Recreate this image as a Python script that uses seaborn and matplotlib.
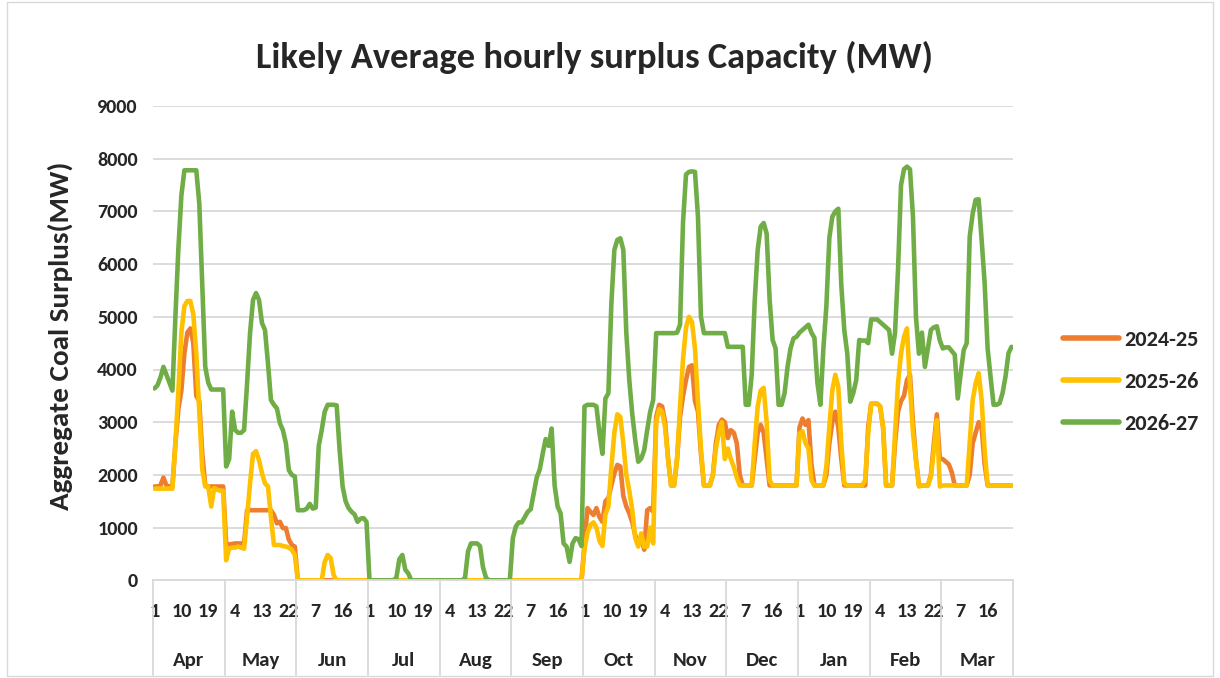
import matplotlib
matplotlib.use("Agg")
import matplotlib.pyplot as plt
import matplotlib.transforms as mtransforms
from matplotlib.patches import Rectangle
import pandas as pd
import seaborn as sns

# ---------------- data ----------------
months = ["Apr", "May", "Jun", "Jul", "Aug", "Sep", "Oct", "Nov", "Dec", "Jan", "Feb", "Mar"]
hours = list(range(1, 25))
series_names = ["2024-25", "2025-26", "2026-27"]
series_colors = ["#ED7D31", "#FFC000", "#70AD47"]

fy_2024_25 = [
    [1780,1780,1800,1950,1800,1780,1780,2600,3250,3600,4300,4700,4780,4500,3500,3400,2400,1800,1780,1780,1780,1780,1780,1780],
    [700,680,690,700,700,700,700,1330,1330,1330,1330,1330,1330,1330,1330,1330,1240,1080,1110,990,990,770,670,640],
    [0]*24,
    [0]*24,
    [0]*24,
    [0]*24,
    [700,1370,1300,1240,1370,1200,1110,1500,1560,1800,2030,2190,2160,1600,1400,1270,1100,850,720,820,580,1330,1370,1300],
    [3100,3330,3300,3000,2300,1800,1800,2300,3100,3500,3800,4050,4080,3400,3200,2400,1800,1800,1800,2000,2600,2950,3050,3000],
    [2700,2850,2800,2600,2000,1800,1800,1800,1800,2300,2800,2950,2800,2300,1800,1800,1800,1800,1800,1800,1800,1800,1800,1800],
    [2900,3070,2950,3040,2200,1800,1800,1800,1800,2000,2600,3000,3200,2900,2300,1800,1800,1800,1800,1800,1800,1800,1800,2900],
    [3350,3350,3350,3300,2900,1800,1800,1800,2600,3200,3400,3500,3800,3900,3000,2300,1800,1800,1800,1800,2000,2600,3150,2300],
    [2300,2250,2200,2050,1800,1800,1800,1800,1800,2000,2600,2800,3000,2900,2200,1800,1800,1800,1800,1800,1800,1800,1800,1800],
]

fy_2025_26 = [
    [1740,1740,1740,1740,1740,1740,1740,2600,3600,4700,5200,5300,5300,5050,4300,3200,2100,1780,1780,1400,1750,1720,1700,1700],
    [380,600,620,620,640,620,600,1200,1840,2400,2450,2280,2030,1840,1780,1200,670,670,670,650,640,620,580,480],
    [0,0,0,0,0,0,0,0,0,350,480,420,100,0,0,0,0,0,0,0,0,0,0,0],
    [0]*24,
    [0]*24,
    [0]*24,
    [600,900,1050,1100,1000,750,650,1250,1400,2150,2800,3150,3100,2600,2000,1700,1330,800,640,890,640,640,1000,700],
    [3000,3250,3200,2900,2300,1800,1800,2300,3300,4200,4800,5000,4900,4400,3400,2500,1800,1800,1800,2000,2500,2800,3000,2300],
    [2500,2300,2150,1950,1800,1800,1800,1800,1800,2600,3300,3600,3650,3000,1900,1800,1800,1800,1800,1800,1800,1800,1800,1800],
    [2790,2830,2600,2500,1900,1800,1800,1800,1800,2160,2920,3610,3900,3670,2600,1840,1800,1800,1800,1800,1800,1800,1900,2790],
    [3350,3350,3350,3300,2900,1800,1800,1800,2790,3740,4310,4620,4780,3700,2800,2280,1780,1800,1800,1800,1970,2470,3040,1780],
    [1800,1800,1800,1800,1800,1800,1800,1800,1800,2600,3420,3740,3930,3420,2470,1800,1800,1800,1800,1800,1800,1800,1800,1800],
]

fy_2026_27 = [
    [3640,3700,3850,4050,3900,3750,3600,5000,6300,7300,7780,7780,7780,7780,7780,7150,5600,4050,3750,3620,3620,3620,3620,3620],
    [2160,2300,3200,2850,2800,2800,2850,3730,4690,5320,5450,5320,4880,4750,4120,3420,3330,3260,2980,2850,2600,2090,2000,1970],
    [1330,1330,1330,1360,1450,1360,1380,2550,2850,3200,3330,3330,3330,3320,2470,1780,1500,1370,1300,1250,1110,1170,1180,1110],
    [0,0,0,0,0,0,0,0,0,50,400,480,200,130,0,0,0,0,0,0,0,0,0,0],
    [0,0,0,0,0,0,0,0,50,550,700,700,700,650,250,50,0,0,0,0,0,0,0,0],
    [800,1020,1100,1100,1200,1300,1350,1650,1950,2100,2400,2680,2550,2880,1800,1400,1270,700,640,350,700,800,780,650],
    [3300,3330,3330,3330,3300,2800,2400,3450,3550,5250,6270,6460,6490,6270,4700,3800,3150,2660,2250,2310,2470,2850,3200,3420],
    [4690,4690,4690,4690,4690,4690,4690,4700,4850,6800,7700,7750,7760,7750,6900,5000,4690,4690,4690,4690,4690,4690,4690,4690],
    [4430,4430,4430,4430,4430,4430,3330,3330,3900,5300,6270,6710,6780,6580,5320,4560,4400,3330,3330,3550,4050,4400,4590,4620],
    [4700,4750,4800,4850,4700,4600,3750,3330,4400,5200,6500,6900,7000,7050,5600,4750,4300,3390,3550,3800,4560,4550,4550,4500],
    [4950,4950,4950,4900,4850,4800,4750,4300,4700,5900,7500,7800,7850,7800,6900,5000,4300,4700,4050,4400,4750,4800,4820,4550],
    [4400,4420,4420,4350,4280,3450,3930,4370,4500,6520,6960,7220,7230,6460,5640,4400,3850,3330,3330,3360,3550,3870,4310,4430],
]

title_text = "Likely Average hourly surplus Capacity (MW)"
ylabel_text = "Aggregate Coal Surplus(MW)"

# ---------------- build long table ----------------
rows = []
for name, data in zip(series_names, [fy_2024_25, fy_2025_26, fy_2026_27]):
    for m, vals in enumerate(data):
        for h, v in enumerate(vals):
            rows.append({"idx": m * len(hours) + h, "value": v, "series": name,
                         "month": months[m], "hour": hours[h]})
df = pd.DataFrame(rows)

# ---------------- style ----------------
sns.set_style("white")
plt.rcParams["font.family"] = ["Carlito", "DejaVu Sans"]
plt.rcParams["lines.solid_joinstyle"] = "round"
plt.rcParams["lines.solid_capstyle"] = "round"

W, H = 1220, 678
fig = plt.figure(figsize=(W / 100, H / 100), dpi=100)
ax_left, ax_right, ax_top, ax_bottom = 153, 1013, 106, 580.3
ax = fig.add_axes([ax_left / W, 1 - ax_bottom / H, (ax_right - ax_left) / W, (ax_bottom - ax_top) / H])

sns.lineplot(data=df, x="idx", y="value", hue="series", hue_order=series_names,
             palette=dict(zip(series_names, series_colors)), linewidth=3.3,
             estimator=None, sort=True, ax=ax)

n = len(months) * len(hours)
ax.set_xlim(-0.5, n - 0.5)
ax.set_ylim(0, 9000)
ax.set_yticks(range(0, 9001, 1000))
ax.set_yticklabels([str(v) for v in range(0, 9001, 1000)], fontsize=14.5, fontweight="bold")
ax.grid(axis="y", color="#D9D9D9", linewidth=1.3)
ax.grid(axis="x", visible=False)
ax.set_axisbelow(True)
for s in ["left", "top", "right"]:
    ax.spines[s].set_visible(False)
ax.spines["bottom"].set_color("#D9D9D9")
ax.spines["bottom"].set_linewidth(1.3)
ax.tick_params(axis="y", length=0, pad=11)
ax.set_xlabel("")
ax.set_ylabel("")

day_ticks = list(range(0, n, 9))
ax.set_xticks(day_ticks)
ax.set_xticklabels([str(hours[i % len(hours)]) for i in day_ticks], fontsize=14.5, fontweight="bold")
ax.tick_params(axis="x", length=0, pad=16)

trans = mtransforms.blended_transform_factory(ax.transData, ax.transAxes)
axh = ax_bottom - ax_top
for k in range(len(months) + 1):
    ax.plot([k * 24 - 0.5, k * 24 - 0.5], [0, -95 / axh], transform=trans,
            color="#D9D9D9", linewidth=1.3, clip_on=False, zorder=1)
for m, name in enumerate(months):
    ax.text(m * 24 + 11.5, -80 / axh, name, transform=trans, ha="center", va="center",
            fontsize=15, fontweight="bold")

fig.text(60 / W, 1 - 336 / H, ylabel_text, rotation=90, ha="center", va="center",
         fontsize=21, fontweight="bold")
fig.text(594 / W, 1 - 57 / H, title_text, ha="center", va="center",
         fontsize=26.3, fontweight="bold")

handles, labels = ax.get_legend_handles_labels()
if ax.get_legend() is not None:
    ax.get_legend().remove()
leg = fig.legend(handles, labels, loc="center left", bbox_to_anchor=(1063 / W, 1 - 382 / H),
                 frameon=False, prop={"weight": "bold", "size": 16}, handlelength=2.5,
                 handletextpad=0.25, labelspacing=1.0, borderpad=0, borderaxespad=0)
for ln in leg.get_lines():
    ln.set_linewidth(4)

fig.patches.append(Rectangle((7 / W, 2 / H), 1206 / W, 674 / H, transform=fig.transFigure,
                             fill=False, edgecolor="#D9D9D9", linewidth=1))

fig.savefig("out.png", dpi=100)
